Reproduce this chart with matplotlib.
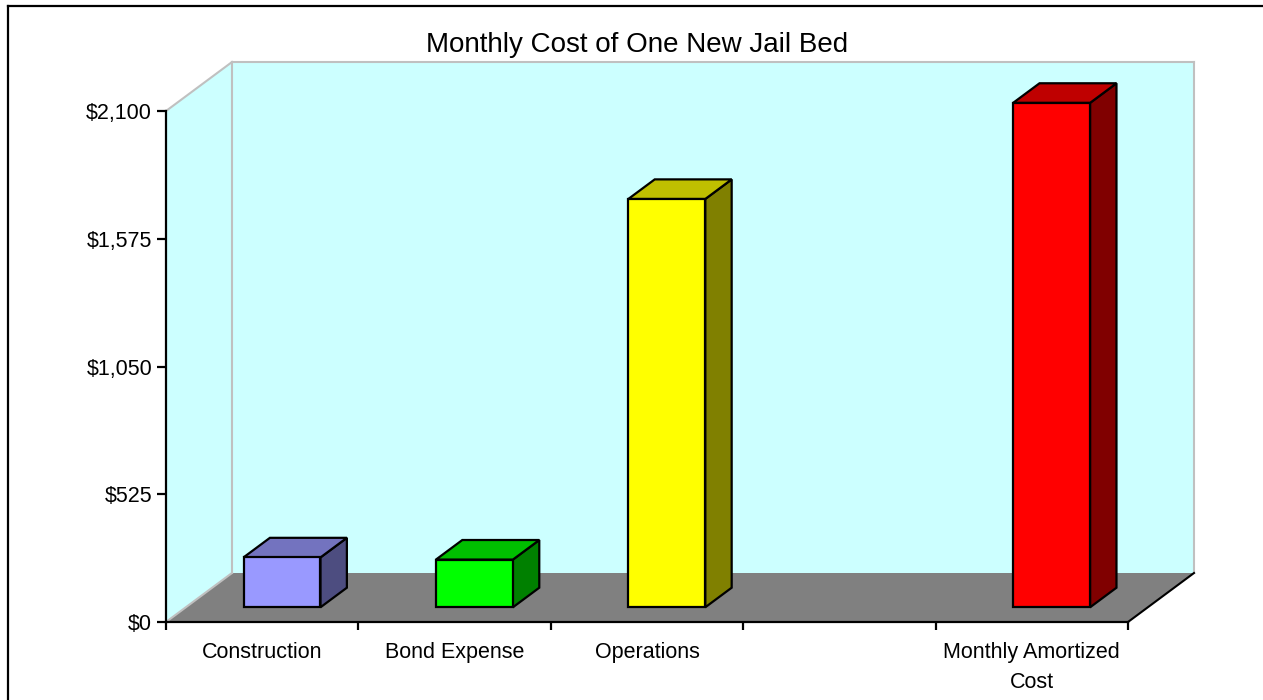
import numpy as np
import matplotlib
matplotlib.use("Agg")
from matplotlib import pyplot as plt
from matplotlib.lines import Line2D
from matplotlib.ticker import FuncFormatter

plt.rcParams['font.family'] = ['Liberation Sans', 'DejaVu Sans']

# data
categories = ["Construction", "Bond Expense", "Operations", "", "Monthly Amortized\nCost"]
values = [205, 196, 1678, None, 2073]
front_colors = ["#9999FF", "#00FF00", "#FFFF00", None, "#FF0000"]
yticks = [0, 525, 1050, 1575, 2100]

fig = plt.figure(figsize=(12.63, 7.0), dpi=100)
ax = fig.add_axes([166/1263, 78/700, 962/1263, 511/700])
ax.set_xlim(0, len(categories))
ax.set_ylim(0, 2100)
ax.patch.set_visible(False)

# pseudo 3d depth, converted from pixels to data units
depth_px = (66, 49)
DX = depth_px[0] / (962 / len(categories))
DY = depth_px[1] / (511 / 2100)

wall = "#CCFFFF"
wall_edge = "#C0C0C0"
top = 2100
n = len(categories)

# left wall, back wall, floor
ax.fill([0, 0, DX, DX], [0, top, top + DY, DY], color=wall, lw=0, clip_on=False, zorder=0)
ax.fill([DX, n + DX, n + DX, DX], [DY, DY, top + DY, top + DY],
        color=wall, lw=0, clip_on=False, zorder=0)
ax.fill([0, n, n + DX, DX], [0, 0, DY, DY], color="#808080", lw=0, clip_on=False, zorder=0.5)
for xs, ys in [([0, DX], [top, top + DY]), ([DX, DX], [DY, top + DY]), ([0, DX], [0, DY]),
               ([DX, n + DX], [top + DY, top + DY]), ([n + DX] * 2, [DY, top + DY])]:
    ax.plot(xs, ys, color=wall_edge, lw=1.5, clip_on=False, zorder=0.6)
ax.plot([n, n + DX], [0, DY], color="black", lw=1.5, clip_on=False, zorder=0.7)

# bars
d0, d1 = 0.3, 0.7
bw = 0.4
for i, (v, c) in enumerate(zip(values, front_colors)):
    if v is None:
        continue
    rgb = np.array(matplotlib.colors.to_rgb(c))
    xl = i + 0.3
    xr = xl + bw
    ox0, oy0 = d0 * DX, d0 * DY
    ox1, oy1 = d1 * DX, d1 * DY
    kw = dict(ec="black", lw=1.6, clip_on=False, joinstyle="miter")
    ax.fill([xr + ox0, xr + ox1, xr + ox1, xr + ox0], [oy0, oy1, v + oy1, v + oy0],
            fc=rgb * 0.5, zorder=3, **kw)
    ax.fill([xl + ox0, xr + ox0, xr + ox1, xl + ox1], [v + oy0, v + oy0, v + oy1, v + oy1],
            fc=rgb * 0.75, zorder=3, **kw)
    ax.fill([xl + ox0, xr + ox0, xr + ox0, xl + ox0], [oy0, oy0, v + oy0, v + oy0],
            fc=rgb, zorder=3.1, **kw)

# axes styling
for s in ["top", "right"]:
    ax.spines[s].set_visible(False)
for s in ["left", "bottom"]:
    ax.spines[s].set_linewidth(1.6)
    ax.spines[s].set_zorder(2.5)

ax.set_yticks(yticks)
ax.yaxis.set_major_formatter(FuncFormatter(lambda v, p: "${:,.0f}".format(v)))
ax.tick_params(axis="y", direction="out", length=6.5, width=1.6, pad=3.5, labelsize=15.5)

ax.set_xticks(np.arange(n + 1))
ax.set_xticklabels([])
ax.set_xticks(np.arange(n) + 0.5, minor=True)
ax.set_xticklabels(categories, minor=True, linespacing=1.55)
ax.tick_params(axis="x", which="major", direction="out", length=6, width=1.6)
ax.tick_params(axis="x", which="minor", length=0, pad=14.5, labelsize=15.5)

fig.text(637/1263, 1 - 45/700, "Monthly Cost of One New Jail Bed", ha="center", va="center",
         fontsize=20)

# outer frame
fig.add_artist(Line2D([8/1263, 1.01], [1 - 6/700] * 2, color="black", lw=1.6,
                      transform=fig.transFigure))
fig.add_artist(Line2D([8/1263] * 2, [-0.01, 1 - 6/700], color="black", lw=1.6,
                      transform=fig.transFigure))

plt.savefig("out.png", dpi=100)
